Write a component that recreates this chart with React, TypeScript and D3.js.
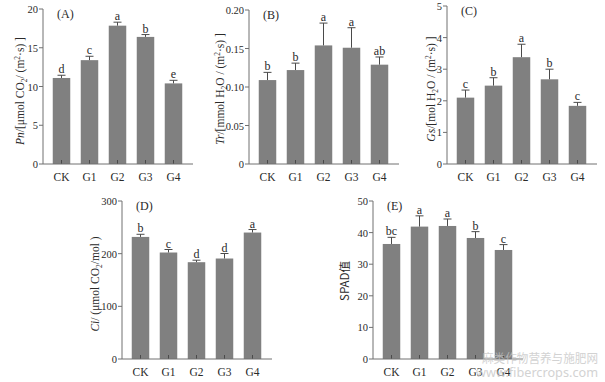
import React from "react";
import * as d3 from "d3";

const categories = ["CK", "G1", "G2", "G3", "G4"];

const pnMean = [11.1, 13.4, 17.85, 16.4, 10.4];
const pnErr = [0.35, 0.5, 0.45, 0.3, 0.4];
const pnLetters = ["d", "c", "a", "b", "e"];
const pnTicks = [0, 5, 10, 15, 20];

const trMean = [0.109, 0.122, 0.154, 0.151, 0.129];
const trErr = [0.01, 0.009, 0.029, 0.026, 0.01];
const trLetters = ["b", "b", "a", "a", "ab"];
const trTicks = [0, 0.05, 0.1, 0.15, 0.2];
const trTickLabels = ["0", "0.05", "0.10", "0.15", "0.20"];

const gsMean = [2.1, 2.48, 3.38, 2.68, 1.84];
const gsErr = [0.24, 0.25, 0.41, 0.32, 0.11];
const gsLetters = ["c", "b", "a", "b", "c"];
const gsTicks = [0, 1, 2, 3, 4, 5];

const ciMean = [231.8, 202.2, 183.8, 190.8, 240.1];
const ciErr = [5, 5.7, 3.8, 9.5, 5.7];
const ciLetters = ["b", "c", "d", "d", "a"];
const ciTicks = [0, 100, 200, 300];

const spadMean = [36.4, 41.9, 42.1, 38.3, 34.5];
const spadErr = [2.1, 3.4, 2.2, 2.0, 1.7];
const spadLetters = ["bc", "a", "a", "b", "c"];
const spadTicks = [0, 10, 20, 30, 40, 50];

const SERIF = "'Liberation Serif', 'Times New Roman', serif";
const CJK = "'Noto Sans CJK SC', sans-serif";

type TitlePart = { t: string; s?: "i" | "sub" | "sup" };

const titleA: TitlePart[] = [
  { t: "Pn", s: "i" }, { t: "/[μmol CO" }, { t: "2", s: "sub" }, { t: "/ (m" }, { t: "2", s: "sup" }, { t: "·s) ]" },
];
const titleB: TitlePart[] = [
  { t: "Tr", s: "i" }, { t: "/[mmol H" }, { t: "2", s: "sub" }, { t: "O / (m" }, { t: "2", s: "sup" }, { t: "·s) ]" },
];
const titleC: TitlePart[] = [
  { t: "Gs", s: "i" }, { t: "/[mol H" }, { t: "2", s: "sub" }, { t: "O / (m" }, { t: "2", s: "sup" }, { t: "·s) ]" },
];
const titleD: TitlePart[] = [
  { t: "Ci", s: "i" }, { t: "/ (μmol CO" }, { t: "2", s: "sub" }, { t: "/mol )" },
];

interface PanelProps {
  x0: number;
  yTop: number;
  yBot: number;
  max: number;
  ticks: number[];
  tickLabels?: string[];
  means: number[];
  errs: number[];
  letters: string[];
  label: string;
  title: TitlePart[];
  titleX: number;
  titleY: number;
  cjkTitle?: string;
}

function Panel(p: PanelProps) {
  const x = d3
    .scaleBand<string>()
    .domain(categories)
    .range([p.x0 + 4.5, p.x0 + 4.5 + 140])
    .paddingInner(0.375)
    .paddingOuter(0.1875);
  const y = d3.scaleLinear().domain([0, p.max]).range([p.yBot, p.yTop]);
  const axisColor = "#707070";
  const textColor = "#2a2a2a";
  const xEnd = p.x0 + 150;
  return (
    <g>
      {categories.map((c, i) => {
        const bx = x(c)!;
        const cx = bx + x.bandwidth() / 2;
        const top = y(p.means[i]);
        const et = y(p.means[i] + p.errs[i]);
        return (
          <g key={c}>
            <rect x={bx} y={top} width={x.bandwidth()} height={p.yBot - top} fill="#808080" />
            <line x1={cx} x2={cx} y1={top} y2={et} stroke="#4a4a4a" strokeWidth={1} />
            <line x1={cx - 4} x2={cx + 4} y1={et} y2={et} stroke="#4a4a4a" strokeWidth={1} />
            <line x1={cx} x2={cx} y1={p.yBot} y2={p.yBot - 4} stroke="#4a4a4a" strokeWidth={1} />
            <text x={cx} y={et - 2} textAnchor="middle" fontFamily={SERIF} fontSize={12} fill={textColor}>
              {p.letters[i]}
            </text>
            <text x={cx} y={p.yBot + 17} textAnchor="middle" fontFamily={SERIF} fontSize={11.5} fill={textColor}>
              {c}
            </text>
          </g>
        );
      })}
      <line x1={p.x0} x2={p.x0} y1={p.yTop} y2={p.yBot} stroke={axisColor} strokeWidth={1} />
      <line x1={p.x0} x2={xEnd} y1={p.yBot} y2={p.yBot} stroke={axisColor} strokeWidth={1} />
      {p.ticks.map((t, i) => (
        <g key={i}>
          <line x1={p.x0 - 4} x2={p.x0} y1={y(t)} y2={y(t)} stroke={axisColor} strokeWidth={1} />
          <text x={p.x0 - 5} y={y(t) + 4} textAnchor="end" fontFamily={SERIF} fontSize={10.5} fill={textColor}>
            {p.tickLabels ? p.tickLabels[i] : String(t)}
          </text>
        </g>
      ))}
      <text x={p.x0 + 14} y={p.yTop + 9} fontFamily={SERIF} fontSize={12} fill={textColor}>
        {p.label}
      </text>
      <text
        transform={`translate(${p.titleX},${p.titleY}) rotate(-90)`}
        textAnchor="middle"
        fontFamily={p.cjkTitle ? CJK : SERIF}
        fontSize={11.5}
        fill={textColor}
      >
        {p.cjkTitle
          ? p.cjkTitle
          : p.title.map((tp, k) =>
              tp.s === "i" ? (
                <tspan key={k} fontStyle="italic">{tp.t}</tspan>
              ) : tp.s === "sub" ? (
                <tspan key={k} fontSize={7.5} baselineShift={-2.5}>{tp.t}</tspan>
              ) : tp.s === "sup" ? (
                <tspan key={k} fontSize={7.5} baselineShift={4}>{tp.t}</tspan>
              ) : (
                <tspan key={k}>{tp.t}</tspan>
              )
            )}
      </text>
    </g>
  );
}

export default function App() {
  return (
    <svg
      width={605}
      height={382}
      viewBox="0 0 605 382"
      style={{ position: "absolute", left: 0, top: 0, background: "#fff" }}
    >
      <rect width={605} height={382} fill="#fff" />
      <Panel x0={43} yTop={9} yBot={164} max={20} ticks={pnTicks} means={pnMean} errs={pnErr}
        letters={pnLetters} label="(A)" title={titleA} titleX={24} titleY={91} />
      <Panel x0={249} yTop={10} yBot={164} max={0.2} ticks={trTicks} tickLabels={trTickLabels}
        means={trMean} errs={trErr} letters={trLetters} label="(B)" title={titleB} titleX={224} titleY={89} />
      <Panel x0={447} yTop={6} yBot={164} max={5} ticks={gsTicks} means={gsMean} errs={gsErr}
        letters={gsLetters} label="(C)" title={titleC} titleX={435} titleY={89} />
      <Panel x0={122} yTop={201} yBot={359} max={300} ticks={ciTicks} means={ciMean} errs={ciErr}
        letters={ciLetters} label="(D)" title={titleD} titleX={99} titleY={284} />
      <Panel x0={373} yTop={201} yBot={359} max={50} ticks={spadTicks} means={spadMean} errs={spadErr}
        letters={spadLetters} label="(E)" title={[]} cjkTitle="SPAD值" titleX={349} titleY={281} />
      <g opacity={0.75}>
        <text x={482} y={363} fontFamily={CJK} fontSize={12} fill="#c4c4c4" textLength={116} lengthAdjust="spacingAndGlyphs">
          麻类作物营养与施肥网
        </text>
        <text x={476} y={377} fontFamily="'Noto Sans', sans-serif" fontSize={13} fill="#c4c4c4" textLength={122} lengthAdjust="spacingAndGlyphs">
          www.fibercrops.com
        </text>
      </g>
    </svg>
  );
}
